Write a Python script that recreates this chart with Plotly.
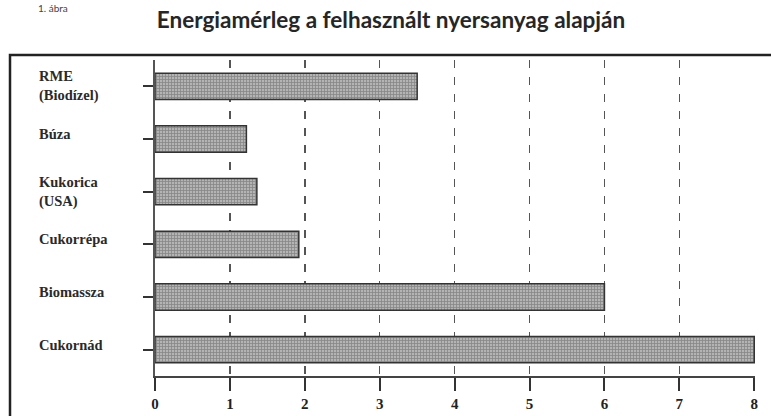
import plotly.graph_objects as go

categories = ["RME<br>(Biodízel)", "Búza", "Kukorica<br>(USA)", "Cukorrépa", "Biomassza", "Cukornád"]
values = [3.5, 1.22, 1.36, 1.92, 6.0, 8.0]
tick_vals = [0, 1, 2, 3, 4, 5, 6, 7, 8]
tick_text = ["0", "1", "2", "3", "4", "5", "6", "7", "8"]
title_text = "Energiamérleg a felhasznált nyersanyag alapján"
fig_label = "1. ábra"

W, H = 771, 416
L, R, T, B = 155, 16, 60, 40
pw, ph = W - L - R, H - T - B


def px_x(p):
    return (p - L) / pw


def px_y(p):
    return (H - B - p) / ph


SERIF = "Liberation Serif, Times New Roman, serif"

fig = go.Figure()
fig.add_trace(go.Bar(
    y=categories,
    x=values,
    orientation="h",
    width=0.5,
    marker=dict(
        color="#a0a0a0",
        line=dict(color="#333", width=1.5),
        pattern=dict(shape="+", size=3, solidity=0.45, fgcolor="#585858", bgcolor="#b4b4b4"),
    ),
    hoverinfo="skip",
))

annotations = []
for c in categories:
    two = "<br>" in c
    txt = "<br>".join("<b>%s</b>" % part for part in c.split("<br>"))
    annotations.append(dict(
        x=px_x(37), xref="paper", xanchor="left",
        y=c, yref="y", yanchor="middle",
        yshift=0 if two else 5,
        text=txt, showarrow=False, align="left",
        font=dict(family=SERIF, size=14.5, color="#2a2a2a"),
    ))

annotations.append(dict(
    x=px_x(36), xref="paper", xanchor="left",
    y=px_y(0), yref="paper", yanchor="top",
    text=fig_label, showarrow=False,
    font=dict(family="Lato", size=10, color="#444"),
))

fig.update_layout(
    width=W, height=H,
    margin=dict(l=L, r=R, t=T, b=B),
    paper_bgcolor="white", plot_bgcolor="white",
    showlegend=False,
    title=dict(
        text="<b>%s</b>" % title_text, x=391 / W, xanchor="center", xref="container",
        y=1 - 20 / H, yanchor="middle", yref="container",
        font=dict(family="Lato", size=22.5, color="#262626"),
    ),
    xaxis=dict(
        range=[0, 8.01],
        tickvals=tick_vals, ticktext=["<b>%s</b>" % t for t in tick_text],
        showgrid=True, gridcolor="#555", gridwidth=1.5, griddash="8px,9px",
        zeroline=False,
        showline=True, linecolor="#444", linewidth=2,
        ticks="outside", ticklen=13, tickwidth=2, tickcolor="#333",
        tickfont=dict(family=SERIF, size=15, color="#222"),
        fixedrange=True, automargin=False,
    ),
    yaxis=dict(
        categoryorder="array", categoryarray=categories,
        autorange="reversed",
        showticklabels=False,
        showline=True, linecolor="#555", linewidth=2,
        ticks="outside", ticklen=10, tickwidth=2, tickcolor="#333",
        showgrid=False, zeroline=False,
        fixedrange=True, automargin=False,
    ),
    annotations=annotations,
    shapes=[dict(
        type="rect", xref="paper", yref="paper",
        x0=px_x(10), x1=px_x(790), y0=px_y(440), y1=px_y(55),
        line=dict(color="#222", width=2.5), layer="above",
    )],
)

fig.write_html(
    "out.html",
    config={"displayModeBar": False, "staticPlot": True},
    post_script="document.body.style.margin='0';document.body.style.padding='0';",
)
